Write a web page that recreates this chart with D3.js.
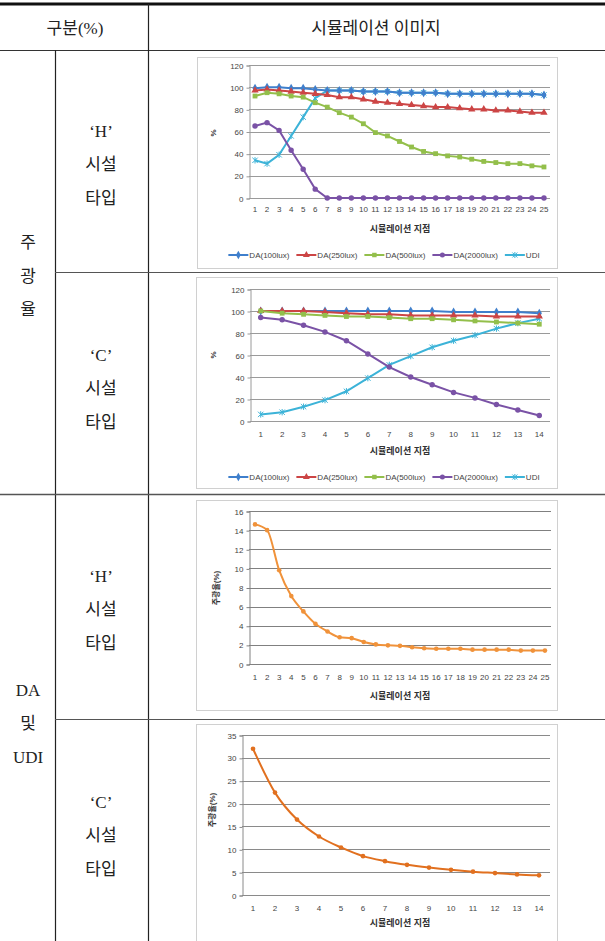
<!DOCTYPE html>
<html>
<head>
<meta charset="utf-8">
<script src="https://cdn.jsdelivr.net/npm/d3@7"></script>
<style>
  body { margin: 0; background: #fff; }
  svg { display: block; }
</style>
</head>
<body>
<div id="main"></div>
<script>
const ctx = { w: 605, h: 941 };

// ---- data ------------------------------------------------------------------
const hPoints = [1,2,3,4,5,6,7,8,9,10,11,12,13,14,15,16,17,18,19,20,21,22,23,24,25];
const cPoints = [1,2,3,4,5,6,7,8,9,10,11,12,13,14];

const seriesNames = ["DA(100lux)", "DA(250lux)", "DA(500lux)", "DA(2000lux)", "UDI"];

const hDA100  = [99,100,100,99,99,98,97,97,97,96,96,96,95,95,95,95,94,94,94,94,94,94,94,94,93];
const hDA250  = [97,98,97,96,95,94,93,91,91,89,87,86,85,84,83,82,82,81,80,80,79,79,78,77,77];
const hDA500  = [92,95,94,92,91,86,82,77,73,67,59,56,51,46,42,40,38,37,35,33,32,31,31,29,28];
const hDA2000 = [65,68,61,43,26,8,0,0,0,0,0,0,0,0,0,0,0,0,0,0,0,0,0,0,0];
const hUDI    = [34,31,39,56,73,90,97,97,97,96,96,96,95,95,95,95,94,94,94,94,94,94,94,94,93];

const cDA100  = [100,100,100,100,100,100,100,100,100,99,99,99,99,98];
const cDA250  = [100,100,100,99,98,97,97,96,96,96,96,95,95,95];
const cDA500  = [100,98,97,96,95,95,94,93,93,92,91,90,89,88];
const cDA2000 = [94,92,87,81,73,61,49,40,33,26,21,15,10,5];
const cUDI    = [6,8,13,19,27,39,51,59,67,73,78,84,89,93];

// 주광율 (daylight factor, %)
const hDF = [14.6,14.0,9.8,7.1,5.5,4.2,3.4,2.8,2.7,2.3,2.05,1.95,1.9,1.75,1.65,1.6,1.6,1.6,1.5,1.5,1.5,1.5,1.4,1.4,1.4];
const cDF = [32.0,22.4,16.5,12.8,10.4,8.5,7.4,6.6,6.0,5.5,5.1,4.8,4.5,4.3];

const pctTicks = [0,20,40,60,80,100,120];
const hDFTicks = [0,2,4,6,8,10,12,14,16];
const cDFTicks = [0,5,10,15,20,25,30,35];

const xTitle = "시뮬레이션 지점";
const dfTitle = "주광율(%)";

// ---- styles ----------------------------------------------------------------
const serifFont = "'Liberation Serif', 'Noto Sans CJK KR', serif";
const chartFont = "'Liberation Sans', 'Noto Sans CJK KR', sans-serif";
const seriesColors = ["#3f7fcc", "#cc4545", "#93bf4b", "#7a52a6", "#3cb3d8"];
const markerTypes = ["diamond", "triangle", "square", "circle", "star"];
// UDI goes underneath so the DA(100lux) line stays visible where they overlap
const drawOrder = [4, 0, 1, 2, 3];

//==============================================================================================
function drawMarker(g, type, color, size) {
    const s = size;
    if (type === "star") {
        g.append("path")
            .attr("d", `M${-s},${-s}L${s},${s}M${-s},${s}L${s},${-s}M0,${-s - 0.5}L0,${s + 0.5}`)
            .attr("stroke", color).attr("stroke-width", 1).attr("fill", "none");
        return;
    }
    const sym = {diamond: d3.symbolDiamond, triangle: d3.symbolTriangle, square: d3.symbolSquare, circle: d3.symbolCircle}[type];
    g.append("path")
        .attr("d", d3.symbol().type(sym).size(s * s * 3.2)())
        .attr("fill", color);
}

function drawChart(svg, opt) {
    const g = svg.append("g");

    // frame
    g.append("rect")
        .attr("x", opt.box[0] + 0.5).attr("y", opt.box[1] + 0.5)
        .attr("width", opt.box[2] - opt.box[0]).attr("height", opt.box[3] - opt.box[1])
        .attr("fill", "#fff").attr("stroke", "#d0d0d0");

    const x = d3.scaleBand().domain(opt.cats).range(opt.xr);
    const y = d3.scaleLinear().domain([0, d3.max(opt.ticks)]).range(opt.yr);

    // gridlines
    g.append("g")
        .selectAll("line")
        .data(opt.ticks)
        .join("line")
        .attr("x1", opt.xr[0]).attr("x2", opt.xr[1])
        .attr("y1", d => Math.round(y(d)) + 0.5).attr("y2", d => Math.round(y(d)) + 0.5)
        .attr("stroke", opt.gridColor).attr("stroke-width", 1);

    // y axis
    const yAxis = g.append("g")
        .attr("transform", `translate(${opt.xr[0] + 0.5},0.5)`)
        .call(d3.axisLeft(y).tickValues(opt.ticks).tickSize(3).tickPadding(3));
    yAxis.select(".domain").attr("stroke", opt.gridColor);
    yAxis.selectAll(".tick line").attr("stroke", opt.gridColor);
    yAxis.selectAll("text").attr("font-family", chartFont).attr("font-size", opt.fs).attr("fill", "#444");

    // x axis labels
    const xAxis = g.append("g")
        .attr("transform", `translate(0,${opt.yr[0]})`)
        .call(d3.axisBottom(x).tickSize(0).tickPadding(opt.xPad));
    xAxis.select(".domain").remove();
    xAxis.selectAll("text").attr("font-family", chartFont).attr("font-size", opt.fs).attr("fill", "#444");

    // x title
    g.append("text")
        .attr("x", opt.xTitlePos[0]).attr("y", opt.xTitlePos[1])
        .attr("text-anchor", "middle")
        .attr("font-family", chartFont).attr("font-size", 9).attr("font-weight", "bold")
        .attr("fill", "#333")
        .text(xTitle);

    // y title
    g.append("text")
        .attr("transform", `translate(${opt.yTitlePos[0]},${opt.yTitlePos[1]}) rotate(-90)`)
        .attr("text-anchor", "middle")
        .attr("font-family", chartFont).attr("font-size", 8).attr("font-weight", "bold")
        .attr("fill", "#333")
        .text(opt.yTitle);

    // series
    const cx = d => x(d) + x.bandwidth() / 2;
    const order = opt.series.length > 1 ? drawOrder : [0];
    order.forEach(i => {
        const s = opt.series[i];
        const pts = opt.cats.map((c, j) => [cx(c), y(s.values[j])]);
        const line = d3.line().curve(opt.curve || d3.curveLinear);
        g.append("path")
            .attr("d", line(pts))
            .attr("fill", "none")
            .attr("stroke", s.color)
            .attr("stroke-width", opt.lw);
        g.append("g")
            .selectAll("g")
            .data(pts)
            .join("g")
            .attr("transform", d => `translate(${d[0]},${d[1]})`)
            .each(function () { drawMarker(d3.select(this), s.marker, s.color, opt.ms); });
    });

    // legend
    if (opt.legendY) {
        const lg = g.append("g");
        let cur = 0;
        opt.series.forEach(s => {
            const it = lg.append("g").attr("transform", `translate(${cur},0)`);
            it.append("line").attr("x1", 0).attr("x2", 20).attr("y1", 0).attr("y2", 0)
                .attr("stroke", s.color).attr("stroke-width", 2);
            const mk = it.append("g").attr("transform", "translate(10,0)");
            drawMarker(mk, s.marker, s.color, 2.5);
            const t = it.append("text").attr("x", 21).attr("y", 3)
                .attr("font-family", chartFont).attr("font-size", 8).attr("fill", "#444")
                .text(s.name);
            cur += 21 + t.node().getComputedTextLength() + 7;
        });
        const total = cur - 7;
        lg.attr("transform", `translate(${opt.legendX - total / 2},${opt.legendY})`);
    }
}

//==============================================================================================
function drawTable(svg) {
    const ln = (x1, y1, x2, y2, w, c) => svg.append("line")
        .attr("x1", x1).attr("y1", y1).attr("x2", x2).attr("y2", y2)
        .attr("stroke", c || "#222").attr("stroke-width", w || 1);

    ln(0, 4, ctx.w, 4, 3, "#111");
    ln(0, 50.5, ctx.w, 50.5, 1.2, "#333");
    ln(148.5, 4, 148.5, ctx.h, 1.2, "#222");
    ln(55.5, 50, 55.5, ctx.h, 1.2, "#222");
    ln(55, 272.5, ctx.w, 272.5, 1.2, "#555");
    ln(0, 494.5, ctx.w, 494.5, 1.6, "#555");
    ln(55, 719.5, ctx.w, 719.5, 1.2, "#555");

    const txt = (x, y, s) => svg.append("text")
        .attr("x", x).attr("y", y)
        .attr("text-anchor", "middle").attr("dominant-baseline", "central")
        .attr("font-family", serifFont).attr("font-size", 17).attr("fill", "#222")
        .text(s);

    txt(75, 28, "구분(%)");
    txt(376, 28, "시뮬레이션 이미지");

    // left group labels (kept as in the source table)
    [["주", 242], ["광", 276], ["율", 309]].forEach(d => txt(28, d[1], d[0]));
    [["DA", 690], ["및", 723], ["UDI", 757]].forEach(d => txt(28, d[1], d[0]));

    const typeLabel = (cy, letter) => {
        txt(101, cy - 33, "‘" + letter + "’");
        txt(101, cy, "시설");
        txt(101, cy + 34, "타입");
    };
    typeLabel(164, "H");
    typeLabel(388, "C");
    typeLabel(609, "H");
    typeLabel(835, "C");
}

//==============================================================================================
function createViz() {
    const svg = d3.select("#main").append("svg")
        .attr("width", ctx.w).attr("height", ctx.h);

    drawTable(svg);

    const makeSeries = vals => vals.map((v, i) => ({
        name: seriesNames[i], values: v, color: seriesColors[i], marker: markerTypes[i]
    }));

    drawChart(svg, {
        box: [197, 57, 557, 268],
        cats: hPoints, ticks: pctTicks,
        xr: [249, 550], yr: [198, 65],
        fs: 8, xPad: 8, lw: 2, ms: 2.7, gridColor: "#9a9a9a",
        series: makeSeries([hDA100, hDA250, hDA500, hDA2000, hUDI]),
        xTitlePos: [400, 232], yTitlePos: [216, 133], yTitle: "%",
        legendX: 384, legendY: 255
    });

    drawChart(svg, {
        box: [196, 277, 557, 488],
        cats: cPoints, ticks: pctTicks,
        xr: [250, 550], yr: [421, 289],
        fs: 8, xPad: 10, lw: 2, ms: 2.7, gridColor: "#9a9a9a",
        series: makeSeries([cDA100, cDA250, cDA500, cDA2000, cUDI]),
        xTitlePos: [400, 454], yTitlePos: [216, 355], yTitle: "%",
        legendX: 384, legendY: 477
    });

    drawChart(svg, {
        box: [196, 500, 557, 710],
        cats: hPoints, ticks: hDFTicks,
        xr: [249, 551], yr: [664, 511],
        fs: 8, xPad: 10, lw: 2, ms: 2.3, gridColor: "#808080",
        curve: d3.curveMonotoneX,
        series: [{name: "df", values: hDF, color: "#f0923a", marker: "circle"}],
        xTitlePos: [400, 699], yTitlePos: [219, 588], yTitle: dfTitle
    });

    drawChart(svg, {
        box: [196, 724, 557, 945],
        cats: cPoints, ticks: cDFTicks,
        xr: [242, 550], yr: [895, 735],
        fs: 8, xPad: 10, lw: 2, ms: 2.3, gridColor: "#8a8a8a",
        curve: d3.curveMonotoneX,
        series: [{name: "df", values: cDF, color: "#e1701f", marker: "circle"}],
        xTitlePos: [400, 926], yTitlePos: [215, 810], yTitle: dfTitle
    });
}

createViz();
</script>
</body>
</html>
